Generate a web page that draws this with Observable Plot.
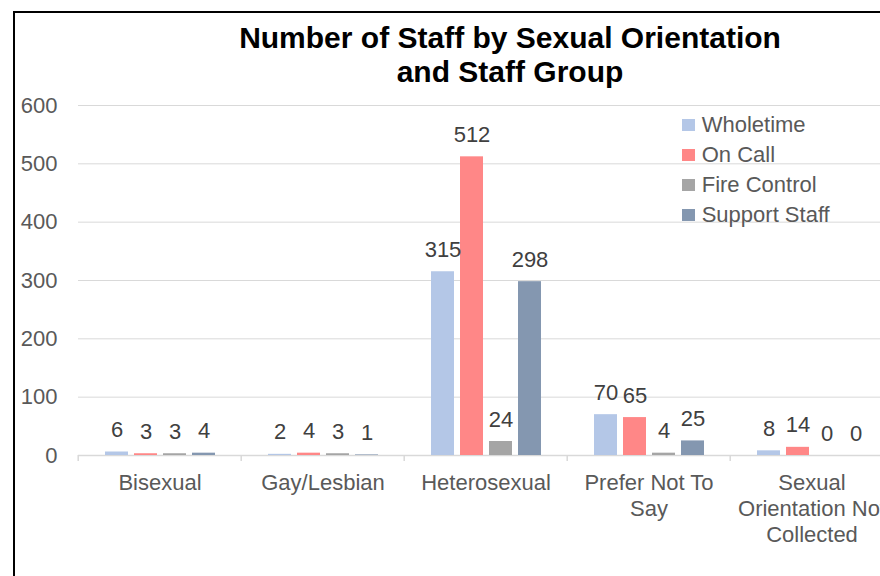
<!DOCTYPE html>
<html><head><meta charset="utf-8">
<script src="https://cdn.jsdelivr.net/npm/d3@7"></script>
<script src="https://cdn.jsdelivr.net/npm/@observablehq/plot@0.6"></script>
<style>
html,body{margin:0;padding:0;background:#fff;}
#wrap{position:relative;width:880px;height:576px;overflow:hidden;font-family:"Liberation Sans",Arial,sans-serif;background:#fff;}
#chart{position:absolute;left:0;top:0;width:900px;}
#chart svg{max-width:none !important;}
#border{position:absolute;left:13px;top:11px;width:2000px;height:2000px;border:2px solid #000;box-sizing:border-box;}
#title{position:absolute;left:0;top:20.6px;width:1020px;text-align:center;font-weight:bold;font-size:30px;line-height:34.5px;color:#000;}
#legend{position:absolute;left:682px;top:110px;font-size:22px;color:#595959;}
.row{height:30px;line-height:30px;white-space:nowrap;position:relative;padding-left:19.7px;}
.sw{position:absolute;left:0;top:8.7px;width:13px;height:12px;}
</style></head>
<body>
<div id="wrap">
  <div id="chart"></div>
  <div id="border"></div>
  <div id="title">Number of Staff by Sexual Orientation<br>and Staff Group</div>
  <div id="legend"></div>
</div>
<script>
const categories = ["Bisexual", "Gay/Lesbian", "Heterosexual", "Prefer Not To Say", "Sexual Orientation Not Collected"];
const categoryLabels = ["Bisexual", "Gay/Lesbian", "Heterosexual", "Prefer Not To\nSay", "Sexual\nOrientation Not\nCollected"];
const series = ["Wholetime", "On Call", "Fire Control", "Support Staff"];
const seriesColors = ["#b4c7e7", "#ff8787", "#a5a5a5", "#8497b0"];
const wholetime = [6, 2, 315, 70, 8];
const onCall = [3, 4, 512, 65, 14];
const fireControl = [3, 3, 24, 4, 0];
const supportStaff = [4, 1, 298, 25, 0];
const yTicks = [0, 100, 200, 300, 400, 500, 600];

const valuesBySeries = [wholetime, onCall, fireControl, supportStaff];
const data = categories.flatMap((c, i) => series.map((s, j) => ({category: c, series: s, value: valuesBySeries[j][i]})));

const W = 900, ML = 76, MR = 6;
const facetStep = (W - ML - MR) / categories.length;

const plot = Plot.plot({
  width: W, height: 576,
  marginTop: 105, marginBottom: 121, marginLeft: ML, marginRight: MR,
  style: {fontFamily: '"Liberation Sans", Arial, sans-serif', fontSize: "22px", color: "#595959", background: "transparent", overflow: "visible", maxWidth: "none"},
  fx: {domain: categories, padding: 0, label: null},
  x: {domain: series, paddingInner: 0.21, paddingOuter: 0.85, axis: null, label: null},
  y: {domain: [0, 600], label: null},
  color: {domain: series, range: seriesColors},
  marks: [
    Plot.gridY(yTicks.filter(d => d > 0), {stroke: "#d9d9d9", strokeOpacity: 1, strokeWidth: 1}),
    Plot.ruleY([0], {stroke: "#d9d9d9", strokeWidth: 1.5}),
    Plot.axisY(yTicks, {tickSize: 0, tickPadding: 21, fontSize: 22, color: "#595959", label: null}),
    Plot.axisFx({anchor: "bottom", tickSize: 6, tickFormat: () => "", dx: -facetStep / 2, color: "#d9d9d9", strokeWidth: 1.5, label: null}),
    Plot.barY(data, {fx: "category", x: "series", y: "value", fill: "series"}),
    Plot.text(data, {fx: "category", x: "series", y: "value", text: d => String(d.value), dy: -22, fill: "#404040", fontSize: 22}),
    Plot.text(categories, {fx: d => d, text: d => categoryLabels[categories.indexOf(d)], frameAnchor: "bottom", lineAnchor: "top", dy: 16, lineHeight: 1.18, fill: "#595959", fontSize: 22})
  ]
});
document.getElementById("chart").appendChild(plot);

const legend = document.getElementById("legend");
series.forEach((s, j) => {
  const row = document.createElement("div");
  row.className = "row";
  const sw = document.createElement("span");
  sw.className = "sw";
  sw.style.background = seriesColors[j];
  row.appendChild(sw);
  row.appendChild(document.createTextNode(s));
  legend.appendChild(row);
});
</script>
</body></html>
